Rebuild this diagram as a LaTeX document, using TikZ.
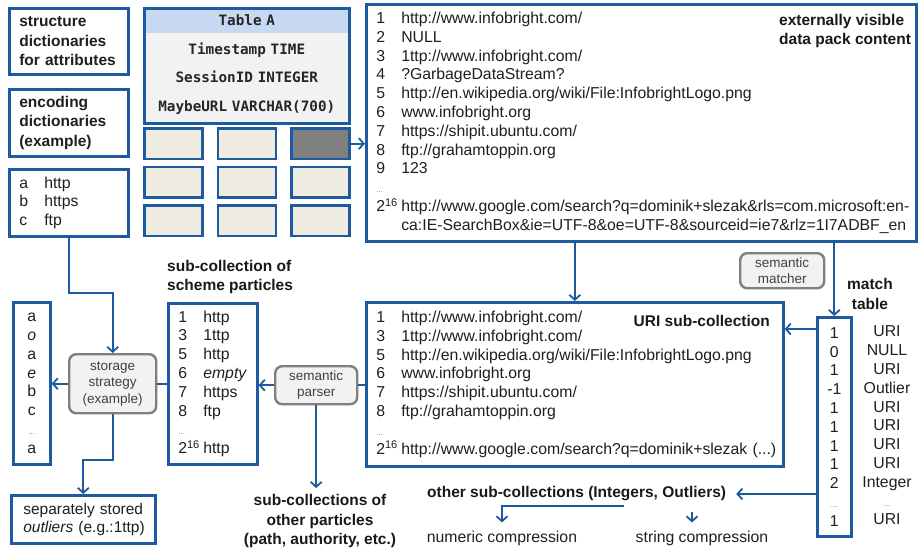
\documentclass[tikz,border=0pt]{standalone}
\usepackage{fontspec}
\setmainfont{Liberation Sans}
\setmonofont{DejaVu Sans Mono}
\usepackage{xcolor}
\usetikzlibrary{positioning, shapes.multipart, arrows.meta}
\definecolor{ibblue}{HTML}{1E5AA0}
\definecolor{hdblue}{HTML}{C6D9F1}
\definecolor{tblgray}{HTML}{F2F2F2}
\definecolor{blkfill}{HTML}{EEECE1}
\definecolor{blkdark}{HTML}{7F7F7F}
\definecolor{rtext}{HTML}{404040}
\newcommand{\rowfont}{\fontsize{15.8}{18.8}\selectfont}
\newcommand{\headfont}{\bfseries\fontsize{15.5}{19.5}\selectfont}
\newcommand{\ent}[2]{\makebox[25pt][l]{#1}\mbox{#2}}
\newcommand{\dts}{{\fontsize{8}{9}\selectfont\textcolor{gray}{...}}}
\tikzset{
  bx/.style={draw=ibblue, line width=2.6pt, fill=white, anchor=north west, align=left,
             inner xsep=10pt, inner ysep=0pt, text=black!88, font=\rowfont},
  bxb/.style={bx, font=\headfont},
  blk/.style={draw=ibblue, line width=2.8pt, fill=blkfill, minimum width=58pt,
              minimum height=30.5pt, anchor=north west, inner sep=0pt},
  tbl/.style={rectangle split, rectangle split parts=2, rectangle split draw splits=false,
               draw=ibblue, line width=2.6pt, rectangle split part fill={hdblue,tblgray},
               font=\ttfamily\bfseries\fontsize{14.3}{28.5}\selectfont, text=black!85,
               text width=205pt, align=center, inner xsep=0pt, inner ysep=0pt, anchor=north west},
  proc/.style={draw=blkdark, line width=2.4pt, fill=tblgray, rounded corners=7pt, text=rtext,
               align=center, inner sep=0pt, font=\fontsize{13.5}{16.5}\selectfont, anchor=north west},
  ttl/.style={inner sep=0pt, font=\headfont, text=black!90},
  txt/.style={inner sep=0pt, font=\rowfont, text=black!88},
  arr/.style={-{Straight Barb[length=5pt,width=11pt]}, draw=ibblue, line width=1.8pt},
  ln/.style={draw=ibblue, line width=1.8pt}
}

\begin{document}
\begin{tikzpicture}[x=1pt,y=-1pt]
  \useasboundingbox (0,0) rectangle (918,552);
  % dictionaries
  \node[bxb, text width=99pt, minimum height=66pt] (sdict) at (8,7) {structure\\dictionaries\\for attributes};
  \node[bxb, text width=99pt, minimum height=67pt] (edict) at (8,88) {encoding\\dictionaries\\(example)};
  \node[bx, text width=99pt, minimum height=67pt] (encl) at (8,168) {\ent{a}{http}\\\ent{b}{https}\\\ent{c}{ftp}};
  % table and data packs
  \node[tbl] (tbla) at (143,7) {\rule[-6pt]{0pt}{22pt}Table A\nodepart{two}\rule{0pt}{20pt}Timestamp TIME\\SessionID INTEGER\\MaybeURL VARCHAR(700)\rule[-11pt]{0pt}{11pt}};
  \node[blk] (b11) at (143,127) {};
  \node[blk] (b12) at (216.5,127) {};
  \node[blk, fill=blkdark] (b13) at (290,127) {};
  \node[blk] (b21) at (143,165.5) {};
  \node[blk] (b22) at (216.5,165.5) {};
  \node[blk] (b23) at (290,165.5) {};
  \node[blk] (b31) at (143,204) {};
  \node[blk] (b32) at (216.5,204) {};
  \node[blk] (b33) at (290,204) {};
  % data pack content
  \node[bx, text width=530pt, minimum height=237pt] (pack) at (365,3) {\ent{1}{http://www.infobright.com/}\\\ent{2}{NULL}\\\ent{3}{1ttp://www.infobright.com/}\\\ent{4}{?GarbageDataStream?}\\\ent{5}{http://en.wikipedia.org/wiki/File:InfobrightLogo.png}\\\ent{6}{www.infobright.org}\\\ent{7}{https://shipit.ubuntu.com/}\\\ent{8}{ftp://grahamtoppin.org}\\\ent{9}{123}\\\dts\\\ent{2\textsuperscript{16}}{http://www.google.com/search?q=dominik+slezak\&rls=com.microsoft:en-}\\\ent{}{ca:IE-SearchBox\&ie=UTF-8\&oe=UTF-8\&sourceid=ie7\&rlz=1I7ADBF\_en}};
  \node[ttl, align=left, anchor=west] (packttl) at (779,31) {externally visible\\data pack content};
  % URI sub-collection and match table
  \node[bx, text width=397pt, minimum height=164pt] (uri) at (365,301) {\ent{1}{http://www.infobright.com/}\\\ent{3}{1ttp://www.infobright.com/}\\\ent{5}{http://en.wikipedia.org/wiki/File:InfobrightLogo.png}\\\ent{6}{www.infobright.org}\\\ent{7}{https://shipit.ubuntu.com/}\\\ent{8}{ftp://grahamtoppin.org}\\\dts\\\ent{2\textsuperscript{16}}{http://www.google.com/search?q=dominik+slezak (...)}};
  \node[ttl, anchor=east] (urittl) at (770,321) {URI sub-collection};
  \node[proc, minimum width=84pt, minimum height=35pt] (smatch) at (739,252) {semantic\\matcher};
  \node[ttl, align=center] (mtttl) at (870,294) {match\\table};
  \node[bx, inner xsep=0pt, text width=34pt, align=center, minimum height=219pt] (mt) at (816,316) {1\\0\\1\\-1\\1\\1\\1\\1\\2\\\dts\\1};
  \node[txt, align=center] (mtlbl) at (887,425.5) {URI\\NULL\\URI\\Outlier\\URI\\URI\\URI\\URI\\Integer\\\dts\\URI};
  % scheme particles
  \node[ttl, align=left, anchor=west] (schttl) at (167,277) {sub-collection of\\scheme particles};
  \node[bx, text width=69pt, minimum height=161pt] (sch) at (167,302) {\ent{1}{http}\\\ent{3}{1ttp}\\\ent{5}{http}\\\ent{6}{\textit{empty}}\\\ent{7}{https}\\\ent{8}{ftp}\\\dts\\\ent{2\textsuperscript{16}}{http}};
  \node[bx, inner xsep=0pt, text width=37pt, align=center, minimum height=162pt] (col) at (12,301) {a\\\textit{o}\\a\\\textit{e}\\b\\c\\\dts\\a};
  \node[proc, minimum width=87pt, minimum height=59pt] (stor) at (68,353) {storage\\strategy\\(example)};
  \node[bx, inner xsep=12pt, text width=120pt, minimum height=48pt, font=\fontsize{15.5}{18}\selectfont] (sep) at (10,494) {\mbox{separately stored}\\\mbox{\textit{outliers} (e.g.:1ttp)}};
  \node[proc, minimum width=82pt, minimum height=38pt] (spar) at (274,365) {semantic\\parser};
  \node[ttl, align=center] (othp) at (320,521) {sub-collections of\\other particles\\(path, authority, etc.)};
  % other sub-collections
  \node[ttl, anchor=west] (othc) at (427,494) {other sub-collections (Integers, Outliers)};
  \node[txt] (numc) at (502,538) {numeric compression};
  \node[txt] (strc) at (702,538) {string compression};
  \coordinate (brk) at (624,506);
  % connectors
  \draw[arr] (b13.east) -- (b13.east -| pack.west);
  \draw[arr] (pack.south -| uri.north) -- (uri.north);
  \draw[arr] (pack.south -| mt.north) -- (mt.north);
  \draw[arr] (mt.west |- 0,329) -- (uri.east |- 0,329);
  \draw[arr] (mt.west |- othc.east) -- ([xshift=10pt]othc.east);
  \draw[arr] (brk) -| ([yshift=8pt]numc.north);
  \draw[arr] ([xshift=-10pt,yshift=18pt]strc.north) -- ([xshift=-10pt,yshift=8pt]strc.north);
  \draw[ln] (spar.east -| uri.west) -- (spar.east);
  \draw[arr] (spar.west) -- (spar.west -| sch.east);
  \draw[arr] (spar.south) -- ([yshift=6pt]spar.south |- othp.north);
  \draw[ln] (stor.east) -- (stor.east -| sch.west);
  \draw[arr] (stor.west) -- (stor.west -| col.east);
  \draw[arr] (encl.south) -- (encl.south |- 0,293) -| (stor.north);
  \draw[arr] (stor.south) -- (stor.south |- 0,460) -| (sep.north);
\end{tikzpicture}
\end{document}
